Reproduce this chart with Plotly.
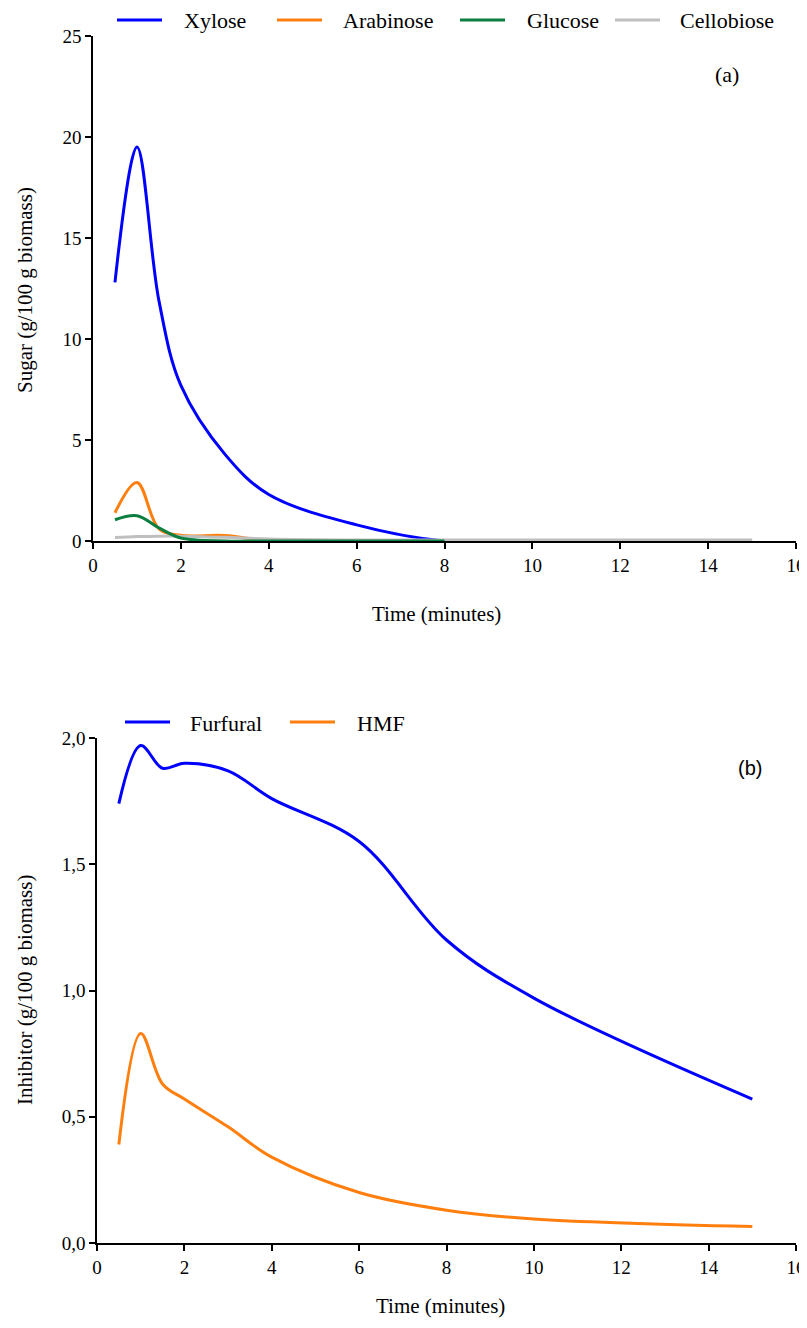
import plotly.graph_objects as go

# ---- data ----
time_sugar = [0.5, 1, 1.5, 2, 3, 4, 6, 8, 10, 15]
xylose = [12.8, 19.5, 11.9, 7.7, 4.3, 2.3, 0.8, 0.0, 0.0, 0.0]
arabinose = [1.4, 2.9, 0.6, 0.28, 0.27, 0.0, 0.0, 0.0, 0.0, 0.0]
cellobiose = [0.17, 0.22, 0.24, 0.24, 0.18, 0.1, 0.05, 0.05, 0.05, 0.05]
time_glucose = [0.5, 1, 1.5, 2, 3, 4, 6, 8]
glucose = [1.05, 1.25, 0.65, 0.15, 0.0, 0.0, 0.0, 0.0]

time_inhib = [0.5, 1, 1.5, 2, 3, 4, 6, 8, 10, 15]
furfural = [1.74, 1.97, 1.88, 1.90, 1.87, 1.76, 1.59, 1.20, 0.97, 0.57]
hmf = [0.39, 0.83, 0.63, 0.57, 0.46, 0.34, 0.20, 0.13, 0.095, 0.065]

x_ticks = list(range(0, 17, 2))
sugar_ticks = [0, 5, 10, 15, 20, 25]
inhib_ticks = [0, 0.5, 1.0, 1.5, 2.0]
inhib_ticktext = ["0,0", "0,5", "1,0", "1,5", "2,0"]

BLUE = "#0000FF"
ORANGE = "#FF7F0E"
GREEN = "#0B7F3F"
GRAY = "#BFBFBF"
SERIF = "Liberation Serif, Times New Roman, serif"
SANS = "Liberation Sans, Arial, sans-serif"

# page has an 8px body margin; figure starts at (8, 8) in the 807x1328 window
OFF = 8
W, H = 807 - OFF, 1328 - 2 * OFF
def px(v):
    return (v - OFF) / W
def py(v):
    return 1 - (v - OFF) / H

fig = go.Figure()

def add(x, y, name, color, xa, ya):
    fig.add_trace(go.Scatter(
        x=x, y=y, name=name, mode="lines", showlegend=False,
        line=dict(color=color, width=3, shape="spline", smoothing=1),
        xaxis=xa, yaxis=ya,
    ))

add(time_sugar, xylose, "Xylose", BLUE, "x", "y")
add(time_sugar, arabinose, "Arabinose", ORANGE, "x", "y")
add(time_sugar, cellobiose, "Cellobiose", GRAY, "x", "y")
add(time_glucose, glucose, "Glucose", GREEN, "x", "y")
add(time_inhib, furfural, "Furfural", BLUE, "x2", "y2")
add(time_inhib, hmf, "HMF", ORANGE, "x2", "y2")

axis_common = dict(
    showline=True, linecolor="black", linewidth=1.5,
    ticks="outside", ticklen=6, tickwidth=1.5, tickcolor="black",
    showgrid=False, zeroline=False, automargin=False,
    ticklabeloverflow="allow",
    tickfont=dict(family=SERIF, size=19, color="black"),
)

fig.update_layout(
    width=W, height=H,
    margin=dict(l=0, r=0, t=0, b=0, autoexpand=False),
    paper_bgcolor="white", plot_bgcolor="white",
    font=dict(family=SERIF, size=21, color="black"),
    xaxis=dict(domain=[px(93), px(796)], range=[0, 16], tickvals=x_ticks,
               anchor="y", **axis_common),
    yaxis=dict(domain=[py(541), py(36)], range=[0, 25], tickvals=sugar_ticks,
               anchor="x", **axis_common),
    xaxis2=dict(domain=[px(97), px(796)], range=[0, 16], tickvals=x_ticks,
                anchor="y2", **axis_common),
    yaxis2=dict(domain=[py(1243), py(738)], range=[0, 2.0], tickvals=inhib_ticks,
                ticktext=inhib_ticktext, anchor="x2", **axis_common),
    showlegend=False,
)

# legend entries (drawn as line samples + labels)
legend_a = [("Xylose", BLUE, 117, 182), ("Arabinose", ORANGE, 277, 341),
            ("Glucose", GREEN, 460, 525), ("Cellobiose", GRAY, 615, 678)]
legend_b = [("Furfural", BLUE, 125, 188), ("HMF", ORANGE, 290, 355)]

shapes = []
annotations = []
for items, yc in ((legend_a, 20), (legend_b, 722)):
    for name, color, lx, tx in items:
        shapes.append(dict(type="line", xref="paper", yref="paper",
                           x0=px(lx), x1=px(lx + 45), y0=py(yc), y1=py(yc),
                           line=dict(color=color, width=3)))
        annotations.append(dict(text=name, x=px(tx), y=py(yc + 1), xref="paper", yref="paper",
                                xanchor="left", yanchor="middle", showarrow=False,
                                font=dict(family=SERIF, size=22)))

def label(text, x, y, size=21, family=SERIF, angle=0):
    annotations.append(dict(text=text, x=px(x), y=py(y), xref="paper", yref="paper",
                            xanchor="center", yanchor="middle", showarrow=False,
                            textangle=angle, font=dict(family=family, size=size)))

label("(a)", 727, 75, size=22)
label("(b)", 750, 768, size=20, family=SANS)
label("Time (minutes)", 437, 614)
label("Time (minutes)", 440, 1306)
label("Sugar (g/100 g biomass)", 25, 290, angle=-90)
label("Inhibitor (g/100 g biomass)", 25, 990, angle=-90)

fig.update_layout(shapes=shapes, annotations=annotations)

fig.write_html("out.html")
